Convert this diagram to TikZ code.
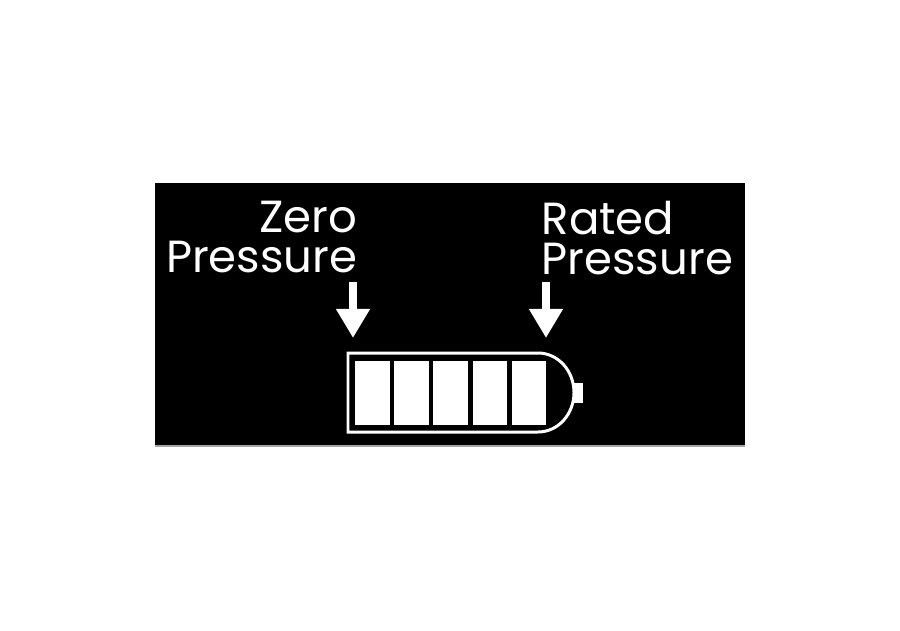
\documentclass[tikz,border=0pt]{standalone}
\usepackage{fontspec}
\setmainfont{Poppins}
\usetikzlibrary{arrows.meta}

\begin{document}
\begin{tikzpicture}[x=0.01cm, y=-0.01cm,
    label/.style={text=white, inner sep=0pt, font=\fontsize{12.8}{11.4}\selectfont},
    marker/.style={white, line width=0.08cm, -{Triangle[width=0.32cm,length=0.29cm]}},
    cell/.style={fill=white, draw=none}]
  \useasboundingbox[fill=white] (0,0) rectangle (900,630);
  \fill[black] (155,183) rectangle (745,446);
  \draw[gray!70, line width=0.3pt] (155,446) -- (745,446);
  % labels
  \node[label, align=right, anchor=north east] (zero) at (358,200) {Zero\\Pressure};
  \node[label, align=left, anchor=north west] (rated) at (541,200) {Rated\\Pressure};
  \coordinate (zerotop) at (353,282);
  \coordinate (zerotip) at (353,338);
  \coordinate (ratedtop) at (546,282);
  \coordinate (ratedtip) at (546,338);
  \draw[marker] (zerotop) -- (zerotip);
  \draw[marker] (ratedtop) -- (ratedtip);
  % battery
  \draw[white, line width=0.85pt] (348,353) -- (538,353)
     .. controls (558,353) and (574,370.7) .. (574,392.5)
     .. controls (574,414.3) and (558,432) .. (538,432) -- (348,432) -- cycle;
  \fill[white] (573,383) rectangle (583,403);
  \foreach \i in {0,...,4}
    \fill[cell] ({355+39.2*\i},361) rectangle ({389.5+39.2*\i},425);
\end{tikzpicture}
\end{document}
